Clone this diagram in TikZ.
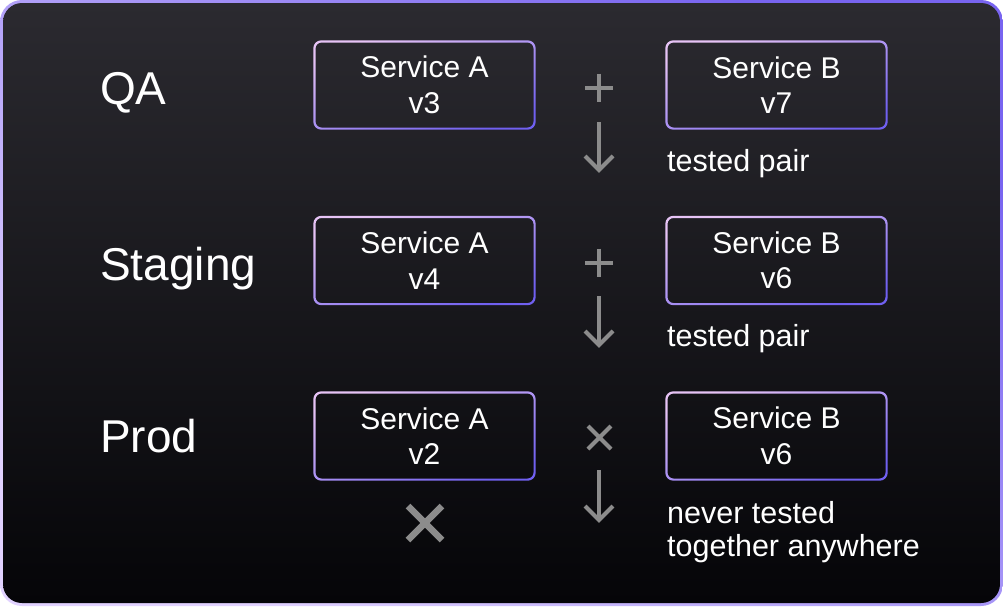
\documentclass[tikz,border=0pt]{standalone}
\usepackage{fontspec}
\setmainfont{Liberation Sans}
\usetikzlibrary{calc}
\definecolor{bgtop}{RGB}{43,42,48}
\definecolor{bgbot}{RGB}{5,5,8}
\definecolor{frameA}{RGB}{120,100,240}
\definecolor{frameB}{RGB}{225,210,255}
\definecolor{boxtop}{RGB}{230,195,245}
\definecolor{boxbot}{RGB}{112,96,240}
\definecolor{symgray}{RGB}{140,140,140}
\tikzset{
  box/.style={minimum width=222pt, minimum height=89pt, inner sep=0pt, align=center,
    text=white, font=\fontsize{30}{35.5}\selectfont},
  stage/.style={anchor=base west, text=white, inner sep=0pt, font=\fontsize{46}{50}\selectfont},
  note/.style={anchor=base west, text=white, inner sep=0pt, align=left, font=\fontsize{30.5}{32.5}\selectfont},
  sym/.style={draw=symgray, line width=4pt},
}
\newcommand\gradring[1]{%
  \shade[even odd rule, top color=boxtop, bottom color=boxbot, shading angle=20]
    [rounded corners=8pt] (#1.south west) rectangle (#1.north east)
    [rounded corners=6pt] ([shift={(2.2pt,2.2pt)}]#1.south west) rectangle ([shift={(-2.2pt,-2.2pt)}]#1.north east);}
\begin{document}
\begin{tikzpicture}[x=1pt,y=-1pt]
\useasboundingbox (0,0) rectangle (1003,606);
% frame
\shade[top color=frameA, bottom color=frameB, shading angle=-35, rounded corners=22pt] (0,0) rectangle (1003,606);
\shade[top color=bgtop, bottom color=bgbot, rounded corners=19pt] (3,3) rectangle (1000,603);
% stage labels
\node[stage] (lqa) at (100,104) {QA};
\node[stage] (lst) at (100,280) {Staging};
\node[stage] (lpr) at (100,452) {Prod};
% boxes
\node[box] (qaA) at (424.5,85) {Service A\\v3};
\node[box] (qaB) at (776.5,85) {Service B\\v7};
\node[box] (stA) at (424.5,260.5) {Service A\\v4};
\node[box] (stB) at (776.5,260.5) {Service B\\v6};
\node[box] (prA) at (424.5,436) {Service A\\v2};
\node[box] (prB) at (776.5,436) {Service B\\v6};
\foreach \n in {qaA,qaB,stA,stB,prA,prB}{\gradring{\n}}
% plus signs
\draw[sym] (585,87.5) -- (613,87.5) (599,73.5) -- (599,101.5);
\draw[sym] (585,262.5) -- (613,262.5) (599,248.5) -- (599,276.5);
% small cross
\draw[sym] (588,426) -- (611,449) (588,449) -- (611,426);
% big cross
\draw[draw=symgray, line width=6.5pt] (408,506) -- (442,540) (408,540) -- (442,506);
% arrows
\foreach \t/\b in {122/170, 296/345, 470/520}{
  \draw[sym] (599,\t) -- (599,\b);
  \draw[sym, line join=miter] (585,\b-14) -- (599,\b) -- (613,\b-14);
}
% notes
\node[note] (n1) at (667,171) {tested pair};
\node[note] (n2) at (667,346) {tested pair};
\node[note] (n3) at (667,556) {never tested\\together anywhere};
\end{tikzpicture}
\end{document}
